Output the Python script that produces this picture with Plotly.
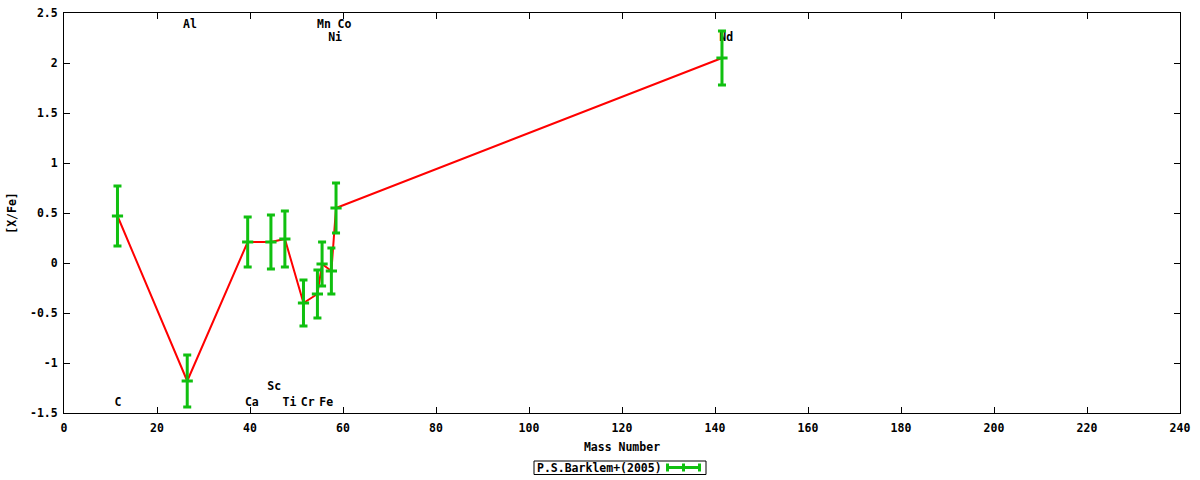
import plotly.graph_objects as go

# ---- data ----
elements = ["C", "Al", "Ca", "Sc", "Ti", "Cr", "Mn", "Fe", "Ni", "Co", "Nd"]
mass = [11.5, 26.5, 39.5, 44.5, 47.5, 51.5, 54.5, 55.5, 57.5, 58.5, 141.5]
xfe = [0.47, -1.18, 0.21, 0.21, 0.24, -0.40, -0.31, -0.01, -0.08, 0.55, 2.05]
err = [0.30, 0.26, 0.25, 0.27, 0.28, 0.23, 0.24, 0.22, 0.23, 0.25, 0.27]

label_text = ["C", "Al", "Ca", "Sc", "Ti", "Cr", "Fe", "Mn", "Co", "Ni", "Nd"]
label_x = [11.6, 27.1, 40.4, 45.2, 48.5, 52.4, 56.4, 55.9, 60.3, 58.3, 142.4]
label_y = [-1.40, 2.375, -1.40, -1.24, -1.40, -1.40, -1.40, 2.375, 2.375, 2.25, 2.25]

xtick_vals = [0, 20, 40, 60, 80, 100, 120, 140, 160, 180, 200, 220, 240]
xtick_text = [str(v) for v in xtick_vals]
ytick_vals = [-1.5, -1, -0.5, 0, 0.5, 1, 1.5, 2, 2.5]
ytick_text = ["-1.5", "-1", "-0.5", "0", "0.5", "1", "1.5", "2", "2.5"]

legend_name = "P.S.Barklem+(2005)"

FONT = dict(family="DejaVu Sans Mono", size=11.5, color="#000000", weight="bold")
GREEN = "#10c010"
RED = "#ff0000"

fig = go.Figure()

# element labels (drawn first so error bars can overlay)
fig.add_trace(go.Scatter(
    x=label_x, y=label_y, mode="text", text=label_text,
    textposition="middle center", textfont=FONT, showlegend=False,
    hoverinfo="skip"))

# red connecting line
fig.add_trace(go.Scatter(
    x=mass, y=xfe, mode="lines", line=dict(color=RED, width=2),
    showlegend=False, hoverinfo="skip"))

# green error bars
fig.add_trace(go.Scatter(
    x=mass, y=xfe, mode="markers", name=legend_name,
    marker=dict(symbol="line-ew", size=8, color=GREEN,
                line=dict(color=GREEN, width=3)),
    error_y=dict(type="data", array=err, visible=True, color=GREEN,
                 thickness=3, width=4),
    showlegend=False))

# manual gnuplot-style legend (text left, sample right)
L, T = 64.0, 13.0
PW, PH = 1116.0, 400.0
def px(x):
    return (x - L) / PW
def py(y):
    return (T + PH - y) / PH

shapes = [
    dict(type="rect", xref="paper", yref="paper",
         x0=px(534), x1=px(706), y0=py(474.5), y1=py(461),
         line=dict(color="#000000", width=1), fillcolor="rgba(0,0,0,0)"),
    dict(type="line", xref="paper", yref="paper",
         x0=px(666), x1=px(701), y0=py(467.5), y1=py(467.5),
         line=dict(color=GREEN, width=3)),
]
for xx in (667.5, 683.5, 699.5):
    shapes.append(dict(type="line", xref="paper", yref="paper",
                       x0=px(xx), x1=px(xx), y0=py(463.5), y1=py(471.5),
                       line=dict(color=GREEN, width=3)))

annotations = [
    dict(text=legend_name, xref="paper", yref="paper",
         x=px(535), y=py(467.8), xanchor="left", yanchor="middle",
         showarrow=False, font=FONT),
]

axis_common = dict(showline=True, linecolor="#000000", linewidth=1,
                   mirror="ticks", ticks="inside", ticklen=6,
                   tickcolor="#000000", showgrid=False, zeroline=False,
                   tickfont=FONT, automargin=False)

fig.update_layout(
    width=1200, height=480,
    margin=dict(l=64, r=20, t=13, b=67),
    paper_bgcolor="#ffffff", plot_bgcolor="#ffffff",
    font=FONT,
    showlegend=False,
    shapes=shapes,
    annotations=annotations,
    xaxis=dict(range=[0, 240], tickvals=xtick_vals, ticktext=xtick_text,
               ticklabelstandoff=4,
               title=dict(text="Mass Number", font=FONT, standoff=9),
               **axis_common),
    yaxis=dict(range=[-1.5, 2.5], tickvals=ytick_vals, ticktext=ytick_text,
               ticklabelstandoff=3,
               title=dict(text="[X/Fe]", font=FONT, standoff=10),
               **axis_common),
)

fig.write_html("out.html",
               config={"displayModeBar": False},
               post_script="document.body.style.margin='0px';"
                           "document.body.style.overflow='hidden';")
